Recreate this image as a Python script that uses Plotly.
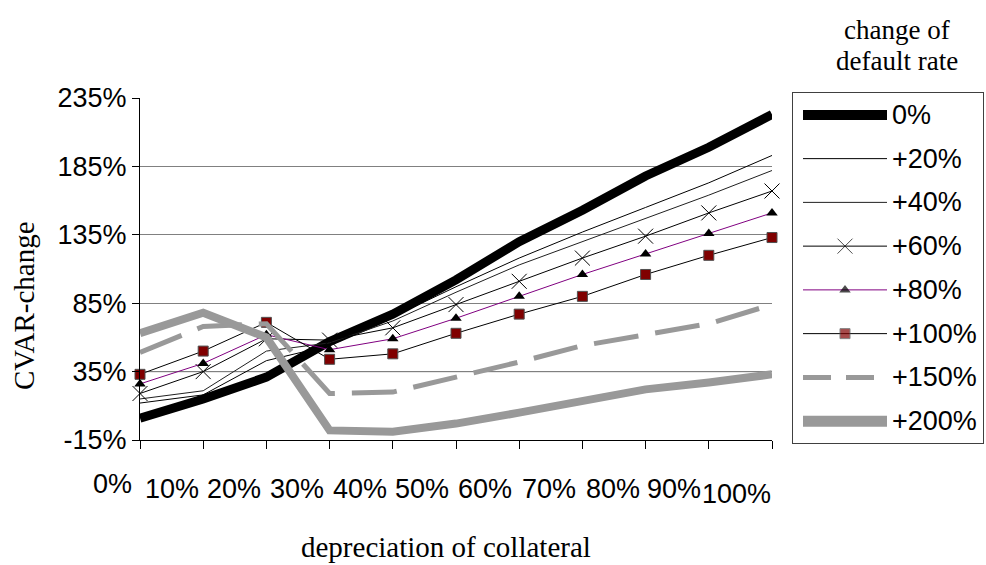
import plotly.graph_objects as go

W, H = 986, 565

# x categories: depreciation of collateral
depreciation = ["0%", "10%", "20%", "30%", "40%", "50%", "60%", "70%", "80%", "90%", "100%"]

# CVAR change (%) for each change of default rate
series_names = ["0%", "+20%", "+40%", "+60%", "+80%", "+100%", "+150%", "+200%"]
rate_0 = [1, 15, 31, 57, 77, 102, 130, 153, 178, 199, 223]
rate_20 = [12, 18, 43, 54, 75, 97, 118, 137, 155, 173, 193]
rate_40 = [15, 21, 50, 56, 72, 93, 113, 130, 147, 164, 182]
rate_60 = [19, 35, 59, 58, 67, 84, 101, 118, 134, 151, 167]
rate_80 = [26, 41, 62, 51, 59, 74, 90, 106, 121, 136, 151]
rate_100 = [33, 50, 71, 44, 48, 63, 77, 90, 106, 120, 133]
rate_150 = [49, 68, 70, 19, 20, 31, 42, 54, 62, 70, 84]
rate_200 = [63, 78, 60, -8, -9, -3, 5, 14, 22, 27, 33]

y_ticks = [-15, 35, 85, 135, 185, 235]
y_tick_text = ["-15%", "35%", "85%", "135%", "185%", "235%"]

series_values = [rate_0, rate_20, rate_40, rate_60, rate_80, rate_100, rate_150, rate_200]

SANS = "Arial, Liberation Sans, sans-serif"
SERIF = "Times New Roman, Liberation Serif, serif"
GRAY = "#999999"
DARKRED = "#800000"

# line / marker styling per series (main chart, legend sample)
styles = [
    dict(line=dict(color="black", width=9), marker=None, legend_width=10),
    dict(line=dict(color="black", width=1), marker=None, legend_width=1),
    dict(line=dict(color="#202020", width=1), marker=None, legend_width=1),
    dict(line=dict(color="black", width=1),
         marker=dict(symbol="x-thin-open", size=15, color="black", line=dict(color="black", width=1)),
         legend_width=1),
    dict(line=dict(color="#800080", width=1),
         marker=dict(symbol="triangle-up", size=10, color="black", line=dict(width=0)),
         legend_width=1),
    dict(line=dict(color="black", width=1),
         marker=dict(symbol="square", size=10, color=DARKRED, line=dict(color="#505050", width=1)),
         legend_width=1),
    dict(line=dict(color=GRAY, width=5, dash="45px,17px"), marker=None, legend_width=5,
         legend_dash="28px,15px"),
    dict(line=dict(color=GRAY, width=8), marker=None, legend_width=11),
]

# pixel geometry of the plotting area and the legend box
PX_L, PX_R, PX_T, PX_B = 140, 772, 98, 440
LG_L, LG_R, LG_T, LG_B = 793, 983, 93, 443


def px_x(p):
    return p / W


def px_y(p):
    return 1 - p / H


fig = go.Figure()
xs = list(range(len(depreciation)))

for name, vals, st in zip(series_names, series_values, styles):
    mode = "lines+markers" if st["marker"] else "lines"
    kw = dict(x=xs, y=vals, mode=mode, name=name, line=st["line"],
              showlegend=False, cliponaxis=False, xaxis="x", yaxis="y")
    if st["marker"]:
        kw["marker"] = st["marker"]
    fig.add_trace(go.Scatter(**kw))

# legend: sample line for each series inside a framed box
s0, s1 = (803 - LG_L) / (LG_R - LG_L), (887 - LG_L) / (LG_R - LG_L)
for k, (name, st) in enumerate(zip(series_names, styles)):
    line = dict(color=st["line"]["color"], width=st["legend_width"])
    if "legend_dash" in st:
        line["dash"] = st["legend_dash"]
    if st["marker"]:
        m = dict(st["marker"])
        m["size"] = [0, st["marker"]["size"], 0]
        fig.add_trace(go.Scatter(x=[s0, (s0 + s1) / 2, s1], y=[k + 0.5] * 3, mode="lines+markers",
                                 line=line, marker=m, showlegend=False, hoverinfo="skip",
                                 xaxis="x2", yaxis="y2", cliponaxis=False))
    else:
        fig.add_trace(go.Scatter(x=[s0, s1], y=[k + 0.5] * 2, mode="lines", line=line,
                                 showlegend=False, hoverinfo="skip",
                                 xaxis="x2", yaxis="y2", cliponaxis=False))
    fig.add_annotation(x=(890 - LG_L) / (LG_R - LG_L), y=k + 0.5, xref="x2", yref="y2",
                       text=name, showarrow=False, xanchor="left", yanchor="middle",
                       font=dict(family=SANS, size=27, color="black"))

# category labels under the x axis (set slightly left of each tick)
label_dx = [-28, -31, -32, -33, -33, -34, -34, -33, -33, -35, -36]
label_dy = [5] + [0] * 9 + [-5]
for i, lab in enumerate(depreciation):
    fig.add_annotation(x=i, y=px_y(489), xref="x", yref="paper", text=lab, showarrow=False,
                       xanchor="center", yanchor="middle", xshift=label_dx[i], yshift=label_dy[i],
                       font=dict(family=SANS, size=27, color="black"))

# axis titles and legend heading
fig.add_annotation(x=px_x(446), y=px_y(547), xref="paper", yref="paper",
                   text="depreciation of collateral", showarrow=False,
                   xanchor="center", yanchor="middle",
                   font=dict(family=SERIF, size=29, color="black"))
fig.add_annotation(x=px_x(24), y=px_y(306), xref="paper", yref="paper",
                   text="CVAR-change", showarrow=False, textangle=-90,
                   xanchor="center", yanchor="middle",
                   font=dict(family=SERIF, size=29, color="black"))
fig.add_annotation(x=px_x(897), y=px_y(30), xref="paper", yref="paper",
                   text="change of", showarrow=False, xanchor="center", yanchor="middle",
                   font=dict(family=SERIF, size=27, color="black"))
fig.add_annotation(x=px_x(897), y=px_y(61), xref="paper", yref="paper",
                   text="default rate", showarrow=False, xanchor="center", yanchor="middle",
                   font=dict(family=SERIF, size=27, color="black"))

# darker horizontal rule at 35%
fig.add_shape(type="line", xref="x", yref="y", x0=0, x1=10, y0=35, y1=35,
              line=dict(color="black", width=1), layer="below")

fig.update_layout(
    width=W, height=H,
    margin=dict(l=0, r=0, t=0, b=0, pad=0, autoexpand=False),
    paper_bgcolor="white", plot_bgcolor="white",
    showlegend=False,
    xaxis=dict(domain=[px_x(PX_L), px_x(PX_R)], range=[0, 10], tickvals=xs,
               showticklabels=False, ticks="outside", ticklen=8, tickcolor="black",
               showline=True, linecolor="black", linewidth=1, showgrid=False,
               zeroline=False, fixedrange=True, automargin=False),
    yaxis=dict(domain=[px_y(PX_B), px_y(PX_T)], range=[-15, 235], tickvals=y_ticks,
               ticktext=y_tick_text, ticks="outside", ticklen=7, tickcolor="black",
               showline=True, linecolor="black", linewidth=1,
               showgrid=True, gridcolor="#808080", gridwidth=1, zeroline=False,
               tickfont=dict(family=SANS, size=27, color="black"), fixedrange=True,
               automargin=False),
    xaxis2=dict(domain=[px_x(LG_L), px_x(LG_R)], range=[0, 1], showticklabels=False,
                showgrid=False, zeroline=False, showline=True, mirror=True,
                linecolor="#404040", linewidth=1, ticks="", anchor="y2", fixedrange=True,
                automargin=False),
    yaxis2=dict(domain=[px_y(LG_B), px_y(LG_T)], range=[8, 0], showticklabels=False,
                showgrid=False, zeroline=False, showline=True, mirror=True,
                linecolor="#404040", linewidth=1, ticks="", anchor="x2", fixedrange=True,
                automargin=False),
)

fig.write_html("out.html")
